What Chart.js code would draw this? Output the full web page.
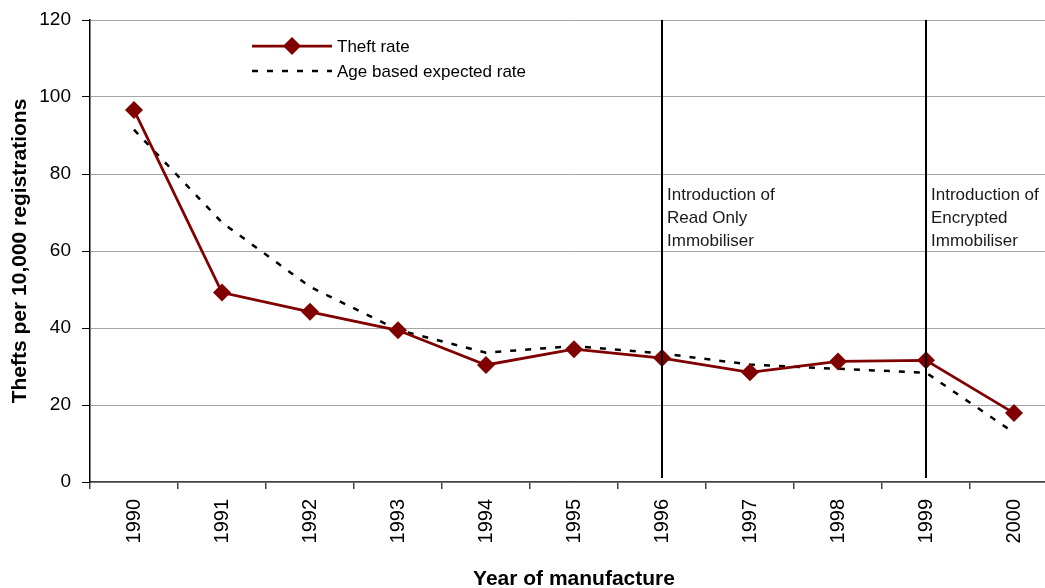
<!DOCTYPE html>
<html>
<head>
<meta charset="utf-8">
<script src="https://cdn.jsdelivr.net/npm/chart.js@4/dist/chart.umd.min.js"></script>
<style>
  html, body { margin: 0; padding: 0; background: #fff; overflow: hidden; }
  #chart { display: block; }
</style>
</head>
<body>
<!-- the plot runs past the right edge of the window in the original, so the canvas is a bit wider -->
<canvas id="chart" width="1070" height="588"></canvas>
<script>
// values
const years = ['1990', '1991', '1992', '1993', '1994', '1995', '1996', '1997', '1998', '1999', '2000'];
const theftRate = [96.6, 49.2, 44.2, 39.4, 30.4, 34.5, 32.2, 28.5, 31.3, 31.6, 17.9];
const expectedRate = [91.5, 67.4, 50.7, 39.5, 33.6, 35.3, 33.4, 30.5, 29.4, 28.4, 12.8];
const seriesNames = ['Theft rate', 'Age based expected rate'];
const yTicks = [0, 20, 40, 60, 80, 100, 120];
const markerYears = ['1996', '1999'];
const markerNotes = [
    ['Introduction of', 'Read Only', 'Immobiliser'],
    ['Introduction of', 'Encrypted', 'Immobiliser']
];

const FONT = '"Liberation Sans", Arial, sans-serif';
const RED = '#800000';

// vertical lines + notes for the immobiliser introductions
var markerLines = {
    id: 'markerLines',
    afterDatasetsDraw: function (chart) {
        var ctx = chart.ctx;
        var area = chart.chartArea;
        var xs = chart.scales.x;
        ctx.save();
        markerYears.forEach(function (yr, i) {
            var px = Math.round(xs.getPixelForValue(years.indexOf(yr)));
            ctx.strokeStyle = '#000';
            ctx.lineWidth = 2;
            ctx.beginPath();
            ctx.moveTo(px, area.top);
            ctx.lineTo(px, area.bottom - 4);
            ctx.stroke();
            ctx.fillStyle = '#1a1a1a';
            ctx.font = '17px ' + FONT;
            ctx.textAlign = 'left';
            ctx.textBaseline = 'middle';
            markerNotes[i].forEach(function (line, j) {
                ctx.fillText(line, px + 5, 195 + j * 23);
            });
        });
        ctx.restore();
    }
};

// legend drawn inside the plot, as in the original
var innerLegend = {
    id: 'innerLegend',
    afterDraw: function (chart) {
        var ctx = chart.ctx;
        var x0 = 252, x1 = 332, rows = [46, 71];
        ctx.save();
        chart.data.datasets.forEach(function (ds, i) {
            var y = rows[i];
            ctx.strokeStyle = ds.borderColor;
            ctx.lineWidth = ds.borderWidth;
            ctx.setLineDash(ds.borderDash || []);
            ctx.beginPath();
            ctx.moveTo(x0, y);
            ctx.lineTo(x1, y);
            ctx.stroke();
            ctx.setLineDash([]);
            if (ds.pointRadius > 0) {
                var r = ds.pointRadius;
                var cx = (x0 + x1) / 2;
                ctx.fillStyle = ds.pointBackgroundColor;
                ctx.beginPath();
                ctx.moveTo(cx, y - r);
                ctx.lineTo(cx + r, y);
                ctx.lineTo(cx, y + r);
                ctx.lineTo(cx - r, y);
                ctx.closePath();
                ctx.fill();
            }
            ctx.fillStyle = '#000';
            ctx.font = '17px ' + FONT;
            ctx.textAlign = 'left';
            ctx.textBaseline = 'middle';
            ctx.fillText(ds.label, x1 + 5, y + 1);
        });
        ctx.restore();
    }
};

new Chart(document.getElementById('chart'), {
    type: 'line',
    data: {
        labels: years,
        datasets: [{
            label: seriesNames[0],
            data: theftRate,
            borderColor: RED,
            borderWidth: 2.75,
            pointStyle: 'rectRot',
            pointRadius: 9,
            pointBackgroundColor: RED,
            pointBorderColor: RED,
            pointBorderWidth: 0,
            tension: 0,
            order: 1
        }, {
            label: seriesNames[1],
            data: expectedRate,
            borderColor: '#000',
            borderWidth: 2.5,
            borderDash: [6, 9],
            pointRadius: 0,
            tension: 0,
            order: 2
        }]
    },
    options: {
        responsive: false,
        animation: false,
        devicePixelRatio: 1,
        layout: { padding: { top: 20, right: 12, bottom: 0, left: 0 } },
        plugins: {
            legend: { display: false },
            tooltip: { enabled: false }
        },
        scales: {
            x: {
                offset: true,
                grid: {
                    offset: true,
                    drawOnChartArea: false,
                    tickLength: 7,
                    tickColor: '#404040',
                    lineWidth: 1.5
                },
                border: { color: '#404040', width: 1.5 },
                ticks: {
                    color: '#000',
                    font: { family: FONT, size: 20 },
                    minRotation: 90,
                    maxRotation: 90,
                    padding: 10
                },
                title: {
                    display: true,
                    text: 'Year of manufacture',
                    color: '#000',
                    font: { family: FONT, size: 21, weight: 'bold' },
                    padding: { top: 0, bottom: -4 }
                },
                afterFit: function (scale) {
                    scale.height = 106;
                    scale.paddingLeft = 0;
                    scale.paddingRight = 0;
                }
            },
            y: {
                min: 0,
                max: 120,
                afterBuildTicks: function (scale) {
                    scale.ticks = yTicks.map(function (v) { return { value: v }; });
                },
                grid: {
                    color: '#a6a6a6',
                    lineWidth: 1,
                    tickLength: 8,
                    tickColor: '#000'
                },
                border: { color: '#000', width: 1.5 },
                ticks: {
                    color: '#000',
                    font: { family: FONT, size: 19 },
                    padding: 11
                },
                title: {
                    display: true,
                    text: 'Thefts per 10,000 registrations',
                    color: '#000',
                    font: { family: FONT, size: 21, weight: 'bold' },
                    padding: { top: 8, bottom: 0 }
                },
                afterFit: function (scale) {
                    scale.width = 90;
                    scale.paddingTop = 0;
                    scale.paddingBottom = 0;
                }
            }
        }
    },
    plugins: [markerLines, innerLegend]
});
</script>
</body>
</html>
